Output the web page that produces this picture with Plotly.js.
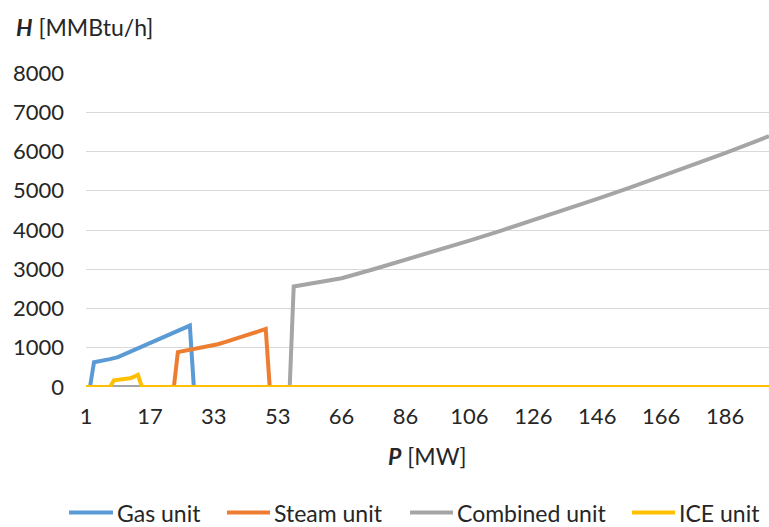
<!DOCTYPE html>
<html>
<head>
<meta charset="utf-8">
<script src="https://cdn.plot.ly/plotly-3.0.1.min.js"></script>
<style>html,body{margin:0;padding:0;background:#fff;}#chart{width:769px;height:527px;}</style>
</head>
<body>
<div id="chart"></div>
<script>
// Category axis: power output P [MW] (as listed in the source table)
const P = [
  1,2,3,4,5,6,7,8,9,10,11,12,13,14,15,16,17,18,19,20,21,22,23,24,25,26,27,28,29,30,31,32,33,
  34.25,35.5,36.75,38,39.25,40.5,41.75,43,44.25,45.5,46.75,48,49.25,50.5,51.75,53,
  53.8,54.6,55.4,56.3,57.1,57.9,58.7,59.5,60.3,61.1,61.9,62.8,63.6,64.4,65.2,66,
  67.25,68.5,69.75,71,72.25,73.5,74.75,76,77.25,78.5,79.75,81,82.25,83.5,84.75,86,
  87.25,88.5,89.75,91,92.25,93.5,94.75,96,97.25,98.5,99.75,101,102.25,103.5,104.75,106,
  107.25,108.5,109.75,111,112.25,113.5,114.75,116,117.25,118.5,119.75,121,122.25,123.5,124.75,126,
  127.25,128.5,129.75,131,132.25,133.5,134.75,136,137.25,138.5,139.75,141,142.25,143.5,144.75,146,
  147.25,148.5,149.75,151,152.25,153.5,154.75,156,157.25,158.5,159.75,161,162.25,163.5,164.75,166,
  167.25,168.5,169.75,171,172.25,173.5,174.75,176,177.25,178.5,179.75,181,182.25,183.5,184.75,186,
  187.25,188.5,189.75,191,192.25,193.5,194.75,196,197.25,198.5,199.75
];

// Heat input H [MMBtu/h] per unit (key points; zero elsewhere)
const gasP  = [1, 2, 3, 5, 7, 9, 11, 13, 15, 17, 19, 21, 23, 25, 27, 28, 199.75];
const gasH  = [0, 0, 630, 660, 710, 760, 850, 940, 1030, 1110, 1200, 1285, 1380, 1480, 1565, 0, 0];

const steamP = [1, 23, 24, 26, 28, 30, 32, 34.25, 36.75, 39.25, 41.75, 44.25, 46.75, 49.25, 50.5, 199.75];
const steamH = [0, 0, 890, 930, 960, 1000, 1040, 1090, 1150, 1210, 1280, 1350, 1410, 1480, 0, 0];

const combP = [1, 55.4, 56.3, 59.5, 62.8, 66, 76, 86, 96, 106, 116, 126, 136, 146, 156, 166, 176, 186, 196, 199.75];
const combH = [0, 0, 2560, 2630, 2700, 2770, 3000, 3237, 3480, 3730, 3986, 4249, 4518, 4793, 5075, 5364, 5659, 5961, 6269, 6391];

const iceP = [1, 7, 8, 9, 10, 11, 12, 13, 14, 15, 199.75];
const iceH = [0, 0, 170, 180, 190, 205, 225, 260, 310, 0, 0];

const seriesNames = ['Gas unit', 'Steam unit', 'Combined unit', 'ICE unit'];
const seriesColors = ['#5B9BD5', '#ED7D31', '#A5A5A5', '#FFC000'];
const yTicks = [0, 1000, 2000, 3000, 4000, 5000, 6000, 7000, 8000];

// Legend layout (paper fractions of the plot area): swatch start/end and label start
const legendSwatchX0 = [-0.0249, 0.2064, 0.4744, 0.7994];
const legendSwatchX1 = [0.0395, 0.2694, 0.5373, 0.8624];
const legendLabelX   = [0.0425, 0.2724, 0.5403, 0.8654];
const legendY = -0.400;

const FONT = 'Lato, "Open Sans", sans-serif';
const TXT = '#262626';

const xs = [gasP, steamP, combP, iceP];
const ys = [gasH, steamH, combH, iceH];
const traces = seriesNames.map((n, i) => ({
  type: 'scatter', mode: 'lines', name: n,
  x: xs[i], y: ys[i],
  line: {color: seriesColors[i], width: 4},
  showlegend: false,
  hoverinfo: 'skip'
}));

const shapes = seriesNames.map((n, i) => ({
  type: 'line', xref: 'paper', yref: 'paper',
  x0: legendSwatchX0[i], x1: legendSwatchX1[i], y0: legendY, y1: legendY,
  line: {color: seriesColors[i], width: 4}
}));

const legendLabels = seriesNames.map((n, i) => ({
  xref: 'paper', yref: 'paper', x: legendLabelX[i], y: legendY,
  xanchor: 'left', yanchor: 'middle', text: n, showarrow: false,
  font: {family: FONT, size: 23, color: TXT}
}));

const layout = {
  width: 769, height: 527,
  margin: {l: 86, r: 0, t: 73, b: 139.5},
  paper_bgcolor: '#ffffff', plot_bgcolor: '#ffffff',
  font: {family: FONT, size: 22, color: TXT},
  showlegend: false,
  xaxis: {
    type: 'category', categoryorder: 'array', categoryarray: P,
    range: [0, P.length - 1],
    tickmode: 'linear', tick0: 0, dtick: 16,
    showgrid: false, zeroline: false, showline: false, ticks: '',
    ticklabelstandoff: 14,
    tickfont: {family: FONT, size: 22, color: TXT},
    fixedrange: true
  },
  yaxis: {
    range: [0, 8000], tickmode: 'array', tickvals: yTicks,
    showgrid: true, gridcolor: '#d9d9d9', gridwidth: 1,
    zeroline: false, showline: false, ticks: '',
    ticklabelstandoff: 21,
    tickfont: {family: FONT, size: 22, color: TXT},
    fixedrange: true
  },
  shapes: shapes,
  annotations: [
    {xref: 'paper', yref: 'paper', x: -0.105, y: 1.1468, xanchor: 'left', yanchor: 'middle',
     text: '<b><i>H</i></b> [MMBtu/h]', showarrow: false, font: {family: FONT, size: 23, color: TXT}},
    {xref: 'paper', yref: 'paper', x: 0.5, y: -0.2208, xanchor: 'center', yanchor: 'middle',
     text: '<b><i>P</i></b> [MW]', showarrow: false, font: {family: FONT, size: 23, color: TXT}}
  ].concat(legendLabels)
};

Plotly.newPlot('chart', traces, layout, {displayModeBar: false, staticPlot: true});
</script>
</body>
</html>
